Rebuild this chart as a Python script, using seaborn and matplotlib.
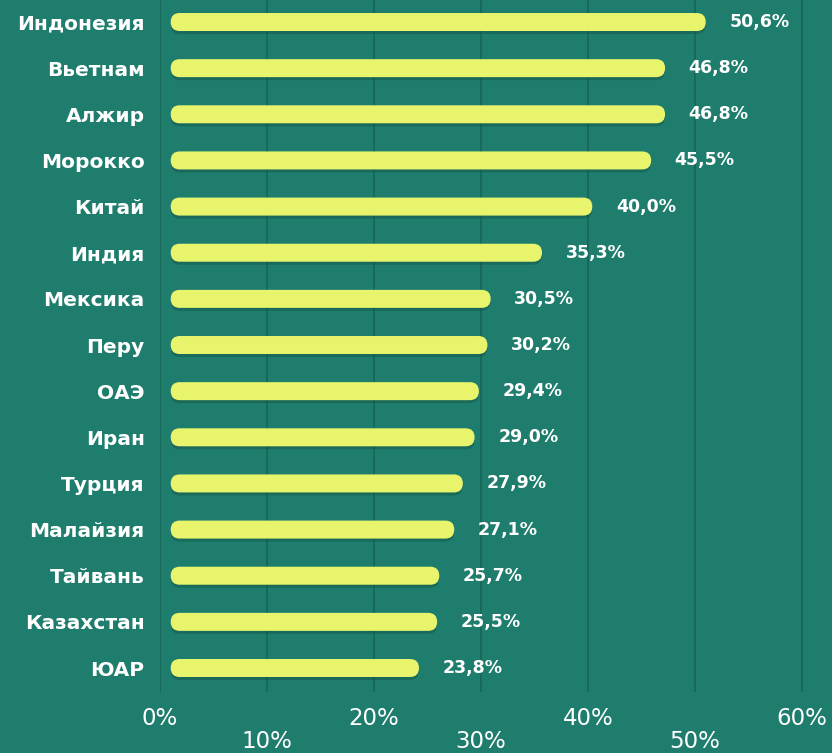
import numpy as np
import pandas as pd
import seaborn as sns
import matplotlib.pyplot as plt
from matplotlib.patches import FancyBboxPatch

countries = ['Индонезия', 'Вьетнам', 'Алжир', 'Морокко', 'Китай', 'Индия', 'Мексика',
             'Перу', 'ОАЭ', 'Иран', 'Турция', 'Малайзия', 'Тайвань', 'Казахстан', 'ЮАР']
values = [50.6, 46.8, 46.8, 45.5, 40.0, 35.3, 30.5, 30.2, 29.4, 29.0, 27.9, 27.1, 25.7, 25.5, 23.8]
major_ticks = [0, 20, 40, 60]
minor_ticks = [10, 30, 50]

bg = '#1f7d6d'
grid_col = '#176757'
bar_col = '#e8f56c'

df = pd.DataFrame({'country': countries, 'value': values})

fig = plt.figure(figsize=(8.32, 7.53), dpi=100, facecolor=bg)
ax = fig.add_axes([160 / 832, 61 / 753, 672 / 832, 692 / 753])
ax.set_facecolor(bg)

sns.barplot(data=df, x='value', y='country', orient='y', color=bar_col,
            width=0.39, ax=ax, saturation=1)

ax.set_xlim(0, 62.8)
ax.set_ylim(14.52, -0.477)

# replace the flat bars by rounded ones (with a soft shadow underneath)
px_x = ax.bbox.width / 62.8
px_y = ax.bbox.height / (14.52 + 0.477)
bars = list(ax.patches)
for p in bars:
    x0, y0, w, h = p.get_x(), p.get_y(), p.get_width(), p.get_height()
    p.set_visible(False)
    rad_px = h * px_y / 2
    r_x = rad_px / px_x
    r_y = rad_px / px_y
    shadow = FancyBboxPatch((x0 + 1.0, y0 + 3 / px_y), w - 0.6, h,
                            boxstyle=f'round,pad=0,rounding_size={r_x}',
                            mutation_aspect=r_y / r_x, fc='#125447', ec='none',
                            alpha=0.45, zorder=2)
    bar = FancyBboxPatch((x0 + 1.0, y0), w - 0.6, h,
                         boxstyle=f'round,pad=0,rounding_size={r_x}',
                         mutation_aspect=r_y / r_x, fc=bar_col, ec='none', zorder=3)
    ax.add_patch(shadow)
    ax.add_patch(bar)

for i, v in enumerate(values):
    ax.text(v + 2.6, i, f'{v:.1f}'.replace('.', ',') + '%', color='white',
            fontsize=12.5, fontweight='bold', va='center', ha='left', zorder=4)

ax.set_xticks(major_ticks)
ax.set_xticklabels([f'{t}%' for t in major_ticks])
ax.set_xticks(minor_ticks, minor=True)
ax.set_xticklabels([f'{t}%' for t in minor_ticks], minor=True)
ax.tick_params(axis='x', which='major', length=0, pad=11, labelsize=16.5, labelcolor='white')
ax.tick_params(axis='x', which='minor', length=0, pad=27, labelsize=16.5, labelcolor='white')
ax.tick_params(axis='y', length=0, pad=11, labelsize=14.5, labelcolor='white')
for lbl in ax.get_yticklabels():
    lbl.set_fontweight('bold')

ax.grid(axis='x', which='both', color=grid_col, lw=1.3)
ax.set_axisbelow(True)
for s in ax.spines.values():
    s.set_visible(False)
ax.set_xlabel('')
ax.set_ylabel('')

fig.savefig('out.png', dpi=100, facecolor=bg)
